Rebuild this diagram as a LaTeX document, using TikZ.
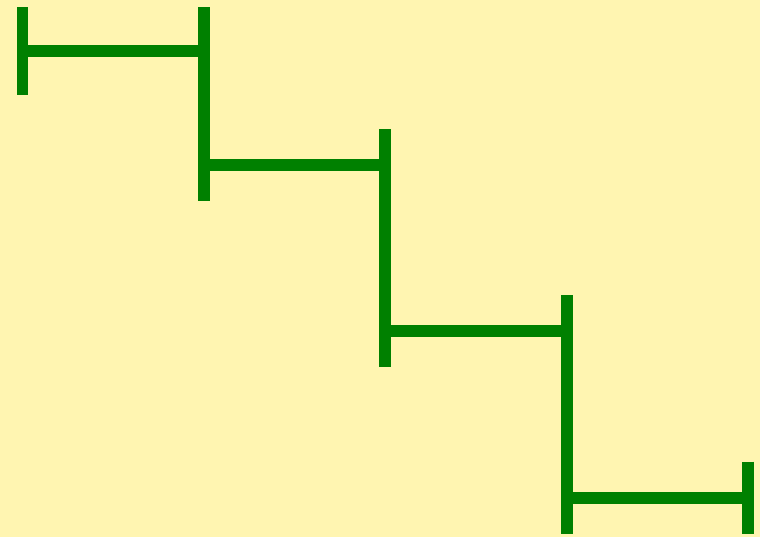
\documentclass[tikz,border=0pt]{standalone}
\usepackage{tikz}

\definecolor{paleyellow}{RGB}{255,245,177}
\definecolor{stairgreen}{RGB}{0,128,0}

\begin{document}
\begin{tikzpicture}[x=0.02cm,y=-0.02cm,stair/.style={draw=stairgreen,line width=0.24cm,line cap=butt}]
\useasboundingbox (0,0) rectangle (760,537);
\fill[paleyellow] (0,0) rectangle (760,537);
% corners of the staircase
\coordinate (a) at (22.5,51);
\coordinate (b) at (203.8,51);
\coordinate (c) at (203.8,165);
\coordinate (d) at (385,165);
\coordinate (e) at (385,331);
\coordinate (f) at (566.5,331);
\coordinate (g) at (566.5,497.5);
\coordinate (h) at (748,497.5);
\draw[stair] (a) -- (b) -- (c) -- (d) -- (e) -- (f) -- (g) -- (h);
% end bars
\foreach \p/\h in {a/0.88,b/0.88,c/0.72,d/0.72,e/0.72,f/0.72,g/0.72,h/0.72}
  \draw[stair] ([yshift=\h cm]\p) -- ([yshift=-\h cm]\p);
\end{tikzpicture}
\end{document}
